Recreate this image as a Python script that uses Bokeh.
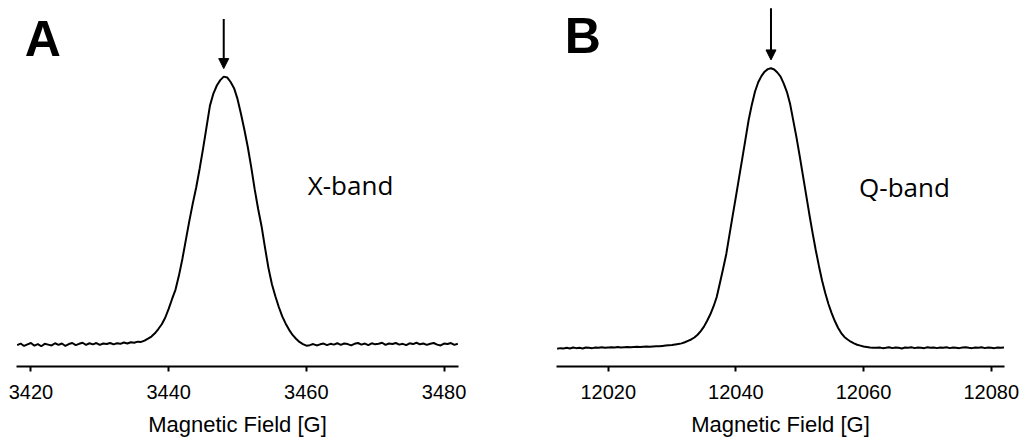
import numpy as np
from bokeh.plotting import figure
from bokeh.layouts import row
from bokeh.models import Range1d, FixedTicker, Arrow, NormalHead, Label, PrintfTickFormatter
from bokeh.embed import file_html
from bokeh.resources import INLINE

# ---- data ----
field_a = np.arange(3418.0, 3482.0 + 0.25, 0.5)   # sweep grid, G
intensity_a = [
    -0.002, 0.004, -0.005, 0.001, 0.006, -0.004, 0.002, -0.006, 0.003, 0.000,
    -0.003, 0.005, -0.001, 0.004, -0.005, 0.002, 0.006, -0.002, 0.003, 0.007,
    -0.001, 0.005, 0.001, 0.006, -0.001, 0.004, 0.002, 0.006, 0.001, 0.005,
    0.003, 0.008, 0.004, 0.009, 0.007, 0.011,
    0.010, 0.015, 0.022, 0.030, 0.042, 0.058, 0.076, 0.100, 0.133, 0.170,
    0.205, 0.258, 0.320, 0.390, 0.460, 0.525, 0.585, 0.655, 0.730, 0.810,
    0.890, 0.935, 0.965, 0.985, 0.998, 0.995, 0.978, 0.955, 0.915, 0.860,
    0.800, 0.735, 0.660, 0.578, 0.505, 0.440, 0.360, 0.285, 0.225, 0.180,
    0.140, 0.105, 0.078, 0.055, 0.036, 0.022, 0.010, 0.002, -0.004, -0.002,
    0.002, -0.003, 0.001, 0.004, -0.002, 0.003, 0.000, 0.005, -0.001, 0.004,
    0.002, -0.003, 0.003, 0.006, 0.000, 0.004, -0.002, 0.005, 0.001, 0.003,
    0.007, -0.001, 0.004, 0.002, 0.006, 0.000, 0.003, -0.002, 0.005, 0.002,
    0.007, 0.001, 0.004, -0.001, 0.003, 0.006, 0.000, -0.003, 0.004, 0.002,
    0.006, -0.001, 0.003,
]
field_b = np.arange(12012.0, 12082.0 + 0.25, 0.5)  # sweep grid, G
intensity_b = [
    -0.003, -0.001, -0.002, 0.000, -0.002, 0.001, -0.001, 0.000, -0.002, 0.001,
    0.000, -0.001, 0.001, 0.000, 0.002, 0.000, 0.001, 0.002, 0.001, 0.003,
    0.001, 0.002, 0.003, 0.002, 0.003, 0.004, 0.003, 0.004, 0.005, 0.004,
    0.005, 0.006,
    0.006, 0.007, 0.008, 0.009, 0.010, 0.012, 0.014, 0.016, 0.020, 0.025,
    0.030, 0.037, 0.047, 0.060, 0.076, 0.097, 0.120, 0.148, 0.182, 0.232,
    0.283, 0.336, 0.405, 0.473, 0.540, 0.609, 0.677, 0.746, 0.815, 0.870,
    0.917, 0.950, 0.972, 0.988, 0.997, 1.000, 0.996, 0.985, 0.970, 0.945,
    0.915, 0.872, 0.812, 0.752, 0.686, 0.617, 0.548, 0.479, 0.413, 0.351,
    0.294, 0.241, 0.196, 0.157, 0.124, 0.096, 0.072, 0.053, 0.039, 0.030,
    0.022, 0.016, 0.011, 0.008, 0.005, 0.003, 0.001, 0.000, 0.000,
    0.001, -0.001, 0.000, 0.002, -0.001, 0.001, 0.000, -0.002, 0.001, 0.000,
    0.002, -0.001, 0.001, 0.000, -0.001, 0.002, 0.000, 0.001, -0.001, 0.001,
    0.000, 0.002, -0.001, 0.001, 0.000, -0.001, 0.001, 0.002, 0.000, -0.001,
    0.001, 0.000, 0.002, -0.001, 0.001, 0.000, -0.001, 0.001, 0.000, 0.001,
]
ticks_a = [3420, 3440, 3460, 3480]
ticks_b = [12020, 12040, 12060, 12080]
panel_letters = ["A", "B"]
band_labels = ["X-band", "Q-band"]
axis_title = "Magnetic Field [G]"


def make_panel(field, inten, ticks, letter, band, xr, yr, width, bl, br, bb,
               letter_pos, band_pos):
    p = figure(width=width, height=439, output_backend="svg", toolbar_location=None,
               title=None, y_axis_location=None, x_range=Range1d(*xr),
               y_range=Range1d(*yr), min_border_left=bl, min_border_right=br,
               min_border_top=0, min_border_bottom=bb)
    p.outline_line_color = None
    p.grid.visible = False
    p.background_fill_color = "white"
    p.border_fill_color = "white"

    p.line(list(field), inten, line_color="black", line_width=2)

    ax = p.xaxis[0]
    ax.ticker = FixedTicker(ticks=ticks)
    ax.formatter = PrintfTickFormatter(format="%d")
    ax.axis_line_color = "black"
    ax.axis_line_width = 2
    ax.major_tick_line_color = "black"
    ax.major_tick_line_width = 2
    ax.major_tick_out = 5
    ax.major_tick_in = 0
    ax.minor_tick_out = 0
    ax.minor_tick_in = 0
    ax.major_label_text_font = "Liberation Sans"
    ax.major_label_text_font_size = "20px"
    ax.major_label_text_color = "black"
    ax.major_label_standoff = 13
    ax.axis_label = axis_title
    ax.axis_label_text_font = "Liberation Sans"
    ax.axis_label_text_font_size = "22px"
    ax.axis_label_text_font_style = "normal"
    ax.axis_label_text_color = "black"
    ax.axis_label_standoff = 10

    # arrow pointing to the peak maximum
    i_max = int(np.argmax(inten))
    xp = float(field[i_max])
    yp = float(inten[i_max])
    p.add_layout(Arrow(end=NormalHead(size=10, fill_color="black", line_color="black"),
                       x_start=xp, y_start=yp + 0.215, x_end=xp, y_end=yp + 0.03,
                       line_color="black", line_width=2))

    p.add_layout(Label(x=letter_pos[0], y=letter_pos[1], text=letter,
                       text_font="Liberation Sans", text_font_style="bold",
                       text_font_size="50px", text_color="black",
                       text_baseline="alphabetic"))
    p.add_layout(Label(x=band_pos[0], y=band_pos[1], text=band,
                       text_font="Open Sans", text_font_size="26px",
                       text_color="black", text_baseline="alphabetic"))
    return p


pa = make_panel(field_a, intensity_a, ticks_a, panel_letters[0], band_labels[0],
                (3417.9, 3482.1), (-0.0815, 1.2815), 509, 16, 51, 71,
                (3419.1, 1.137), (3460.2, 0.593))
pb = make_panel(field_b, intensity_b, ticks_b, panel_letters[1], band_labels[1],
                (12011.9, 12082.08), (-0.0667, 1.2426), 510, 47, 15, 72,
                (12013.2, 1.117), (12059.3, 0.575))

layout = row(pa, pb)
open("out.html", "w").write(file_html(layout, INLINE))
